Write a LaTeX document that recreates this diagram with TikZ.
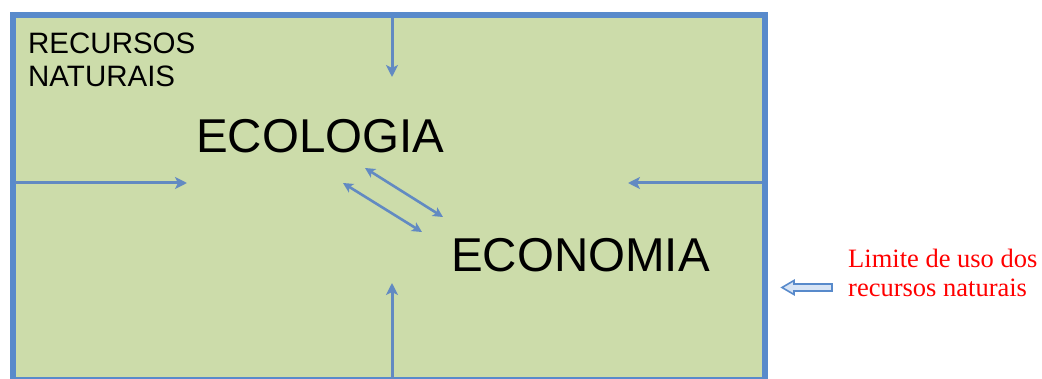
\documentclass[tikz,border=0pt]{standalone}
\usepackage{fontspec}
\setmainfont{Liberation Sans}
\newfontfamily\timesf{Liberation Serif}
\usetikzlibrary{arrows.meta}
\definecolor{bordblue}{RGB}{88,138,203}
\definecolor{arrblue}{RGB}{98,138,194}
\definecolor{boxfill}{RGB}{204,220,170}
\definecolor{hollowfill}{RGB}{215,228,245}
\tikzset{
  flowarrow/.style={draw=arrblue, line width=3pt, -{Stealth[length=12pt,width=12pt,inset=3pt]}},
  linkarrow/.style={draw=arrblue, line width=2.6pt, {Stealth[length=10pt,width=10pt,inset=2.5pt]}-{Stealth[length=10pt,width=10pt,inset=2.5pt]}},
  bigword/.style={inner sep=0pt, anchor=base west, font=\fontsize{47.5pt}{50pt}\selectfont},
  redlabel/.style={inner sep=0pt, anchor=north west, align=left, text=red, font=\timesf\fontsize{26.5pt}{29pt}\selectfont},
}
\begin{document}
\begin{tikzpicture}[x=1pt,y=1pt]
\useasboundingbox (0,0) rectangle (1042,-379);
\begin{scope}
\clip (0,0) rectangle (1042,-379);
\draw[draw=bordblue, fill=boxfill, line width=6pt] (12.5,-15) rectangle (764.5,-380.5);
\end{scope}
% text nodes
\node[inner sep=0pt, anchor=north west, align=left, font=\fontsize{29.5pt}{33pt}\selectfont] (rec) at (28,-33) {RECURSOS\\NATURAIS};
\node[bigword] (ecol) at (196,-153) {ECOLOGIA};
\node[bigword] (econ) at (451,-272) {ECONOMIA};
\node[redlabel] (lim) at (848,-249) {Limite de uso dos\\recursos naturais};
% arrow end coordinates
\coordinate (topS) at (392,-18);
\coordinate (topE) at (392,-77);
\coordinate (botS) at (392,-379);
\coordinate (botE) at (392,-283);
\coordinate (lefS) at (15,-183);
\coordinate (lefE) at (187,-183);
\coordinate (rigS) at (762,-183);
\coordinate (rigE) at (628,-183);
\coordinate (a1) at (365,-168);
\coordinate (b1) at (443,-217);
\coordinate (a2) at (343,-183);
\coordinate (b2) at (422,-232);
\draw[flowarrow] (topS) -- (topE);
\draw[flowarrow] (botS) -- (botE);
\draw[flowarrow] (lefS) -- (lefE);
\draw[flowarrow] (rigS) -- (rigE);
\draw[linkarrow] (a1) -- (b1);
\draw[linkarrow] (a2) -- (b2);
% hollow limit arrow
\draw[draw=bordblue, fill=hollowfill, line width=1.6pt, line join=miter]
  (832,-284) -- (794,-284) -- (794,-280.5) -- (782,-287.5) -- (794,-294.5) -- (794,-291) -- (832,-291) -- cycle;
\end{tikzpicture}
\end{document}
